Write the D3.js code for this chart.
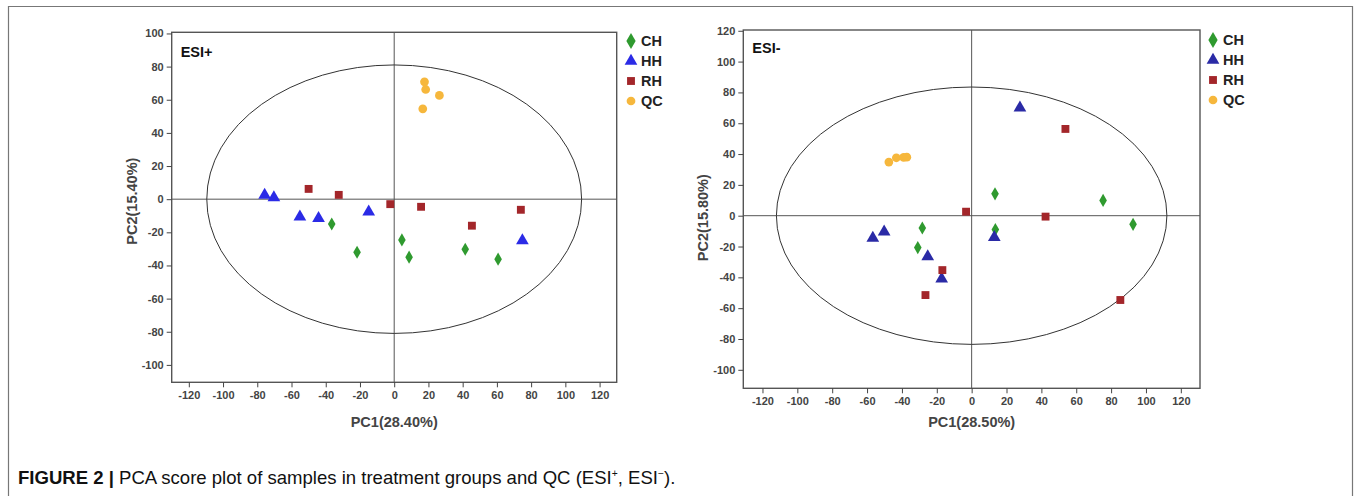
<!DOCTYPE html>
<html lang="en">
<head>
<meta charset="UTF-8">
<title>PCA score plot</title>
<script src="https://d3js.org/d3.v7.min.js"></script>
<style>
  body { margin: 0; background: #fff; }
  svg { display: block; font-family: "Liberation Sans", Arial, sans-serif; }
  .tick text { font-size: 11px; font-weight: bold; fill: #444; }
  .tick line { stroke: #444; }
  .axis path { stroke: none; }
  .title { font-size: 14.5px; font-weight: bold; fill: #444; }
  .legend text { font-size: 14.5px; font-weight: bold; fill: #222; }
</style>
</head>
<body>
<div id="chart"></div>
<script>
// group names and colours
const groups = ["CH", "HH", "RH", "QC"];
const colorsPos = ["#2f9a2f", "#2b2be6", "#a3262a", "#f6b73c"];
const colorsNeg = ["#2f9a2f", "#2a2aa6", "#a3262a", "#f6b73c"];

// ESI+ scores [PC1, PC2]
const posCH = [[-36.5, -15], [-21.7, -32], [4.5, -24.6], [8.7, -35], [41.5, -30.2], [60.7, -36.2]];
const posHH = [[-75.7, 2.4], [-70.3, 1], [-55.1, -10.6], [-44.2, -11.6], [-14.9, -7.6], [74.9, -25]];
const posRH = [[-50, 6.2], [-32.4, 2.6], [-2.3, -3], [15.7, -4.6], [45.4, -16], [74, -6.4]];
const posQC = [[17.7, 70.8], [18.4, 66.2], [26.4, 62.6], [16.7, 54.5]];

// ESI- scores [PC1, PC2]
const negCH = [[13.4, 14.2], [75.4, 9.9], [92.6, -5.6], [13.6, -9], [-28.3, -8], [-30.9, -20.7]];
const negHH = [[-56.7, -14.5], [-50.2, -10.5], [-25.2, -26.5], [-17.2, -41], [13, -14], [27.7, 70]];
const negRH = [[-3.2, 2.6], [42.4, -0.6], [-16.8, -35.3], [-26.5, -51.5], [85.3, -54.7], [53.8, 56.3]];
const negQC = [[-47.5, 34.8], [-43.2, 37.6], [-39, 37.8], [-37.2, 38]];

// Hotelling ellipse radii [PC1, PC2]
const ellipsePos = [109.5, 81];
const ellipseNeg = [112, 83.5];

// tick values
const xTicks = [-120, -100, -80, -60, -40, -20, 0, 20, 40, 60, 80, 100, 120];
const yTicksPos = [-100, -80, -60, -40, -20, 0, 20, 40, 60, 80, 100];
const yTicksNeg = [-100, -80, -60, -40, -20, 0, 20, 40, 60, 80, 100, 120];

const W = 1354, H = 496;
const svg = d3.select("#chart").append("svg")
    .attr("width", W)
    .attr("height", H);

// outer figure border (open at bottom)
svg.append("path")
    .attr("d", `M8.5,${H} L8.5,6.5 L1352.5,6.5 L1352.5,${H}`)
    .attr("fill", "none")
    .attr("stroke", "#777")
    .attr("stroke-width", 1.2);

const shapes = [d3.symbolDiamond, d3.symbolTriangle, d3.symbolSquare, d3.symbolCircle];
const sizes = [50, 70, 62, 60];
const plain = d => String(d);   // hyphen minus like the original

function drawPanel(p) {
    const x = d3.scaleLinear().domain(p.xDomain).range([p.left, p.right]);
    const y = d3.scaleLinear().domain(p.yDomain).range([p.bottom, p.top]);
    const g = svg.append("g");

    // zero lines
    g.append("line")
        .attr("x1", x(0)).attr("x2", x(0))
        .attr("y1", p.top).attr("y2", p.bottom)
        .attr("stroke", "#555").attr("stroke-width", 1);
    g.append("line")
        .attr("x1", p.left).attr("x2", p.right)
        .attr("y1", y(0)).attr("y2", y(0))
        .attr("stroke", "#555").attr("stroke-width", 1);

    // ellipse
    g.append("ellipse")
        .attr("cx", x(0)).attr("cy", y(0))
        .attr("rx", x(p.ellipse[0]) - x(0))
        .attr("ry", y(0) - y(p.ellipse[1]))
        .attr("fill", "none")
        .attr("stroke", "#333")
        .attr("stroke-width", 1);

    // frame
    g.append("rect")
        .attr("x", p.left).attr("y", p.top)
        .attr("width", p.right - p.left)
        .attr("height", p.bottom - p.top)
        .attr("fill", "none")
        .attr("stroke", "#555")
        .attr("stroke-width", 1.4);

    // axes
    g.append("g")
        .attr("class", "axis")
        .attr("transform", `translate(0,${p.bottom})`)
        .call(d3.axisBottom(x).tickValues(xTicks).tickFormat(plain).tickSize(5).tickPadding(4));
    g.append("g")
        .attr("class", "axis")
        .attr("transform", `translate(${p.left},0)`)
        .call(d3.axisLeft(y).tickValues(p.yTicks).tickFormat(plain).tickSize(5).tickPadding(3));

    // points
    p.series.forEach((pts, i) => {
        g.selectAll(null)
            .data(pts)
            .enter().append("path")
            .attr("d", d3.symbol().type(shapes[i]).size(sizes[i]))
            .attr("transform", d => `translate(${x(d[0])},${y(d[1])})`)
            .attr("fill", p.colors[i]);
    });

    // panel label
    g.append("text")
        .attr("x", p.left + 9)
        .attr("y", p.labelY)
        .attr("font-size", 14.5)
        .attr("font-weight", "bold")
        .attr("fill", "#111")
        .text(p.label);

    // axis titles
    g.append("text")
        .attr("class", "title")
        .attr("x", (p.left + p.right) / 2)
        .attr("y", 427)
        .attr("text-anchor", "middle")
        .text(p.xTitle);
    g.append("text")
        .attr("class", "title")
        .attr("transform", `translate(${p.left - 35},${y(0) + 2}) rotate(-90)`)
        .attr("text-anchor", "middle")
        .text(p.yTitle);

    // legend
    const lg = g.append("g").attr("class", "legend");
    groups.forEach((name, i) => {
        const cy = p.legendY + i * 20;
        lg.append("path")
            .attr("d", d3.symbol().type(shapes[i]).size(sizes[i] * (i === 0 ? 1.5 : 1)))
            .attr("transform", `translate(${p.legendX},${cy})`)
            .attr("fill", p.colors[i]);
        lg.append("text")
            .attr("x", p.legendX + 10)
            .attr("y", cy + 5)
            .text(name);
    });
}

drawPanel({
    left: 171.7, right: 616.7, top: 32.3, bottom: 382.3,
    xDomain: [-130, 130], yDomain: [-110.5, 100.7],
    yTicks: yTicksPos, ellipse: ellipsePos,
    series: [posCH, posHH, posRH, posQC], colors: colorsPos,
    label: "ESI+", labelY: 57,
    xTitle: "PC1(28.40%)", yTitle: "PC2(15.40%)",
    legendX: 631, legendY: 41
});

drawPanel({
    left: 743.3, right: 1200, top: 30, bottom: 388.3,
    xDomain: [-131, 131], yDomain: [-112, 120.5],
    yTicks: yTicksNeg, ellipse: ellipseNeg,
    series: [negCH, negHH, negRH, negQC], colors: colorsNeg,
    label: "ESI-", labelY: 53,
    xTitle: "PC1(28.50%)", yTitle: "PC2(15.80%)",
    legendX: 1213, legendY: 40
});

// caption
const cap = svg.append("text")
    .attr("x", 18)
    .attr("y", 484)
    .attr("font-size", 18)
    .attr("fill", "#111")
    .attr("font-family", "'Liberation Sans Narrow', 'Liberation Sans', Arial, sans-serif");
cap.append("tspan").attr("font-weight", "bold").text("FIGURE 2 | ");
cap.append("tspan").text("PCA score plot of samples in treatment groups and QC (ESI");
cap.append("tspan").attr("font-size", 10).attr("dy", -7).text("+");
cap.append("tspan").attr("dy", 7).text(", ESI");
cap.append("tspan").attr("font-size", 10).attr("dy", -7).text("\u2212");
cap.append("tspan").attr("dy", 7).text(").");
const capW = cap.node().getComputedTextLength();
if (capW > 0) {
    cap.attr("transform", `translate(18,0) scale(${658 / capW},1) translate(-18,0)`);
}
</script>
</body>
</html>
